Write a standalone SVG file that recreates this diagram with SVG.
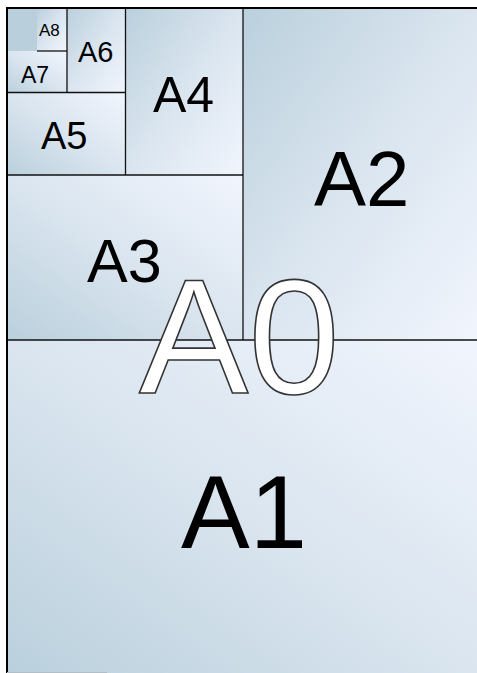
<svg xmlns="http://www.w3.org/2000/svg" width="477" height="673" viewBox="0 0 477 673">
<defs>
<linearGradient id="gTL" x1="0" y1="0" x2="1" y2="1">
<stop offset="0" stop-color="#bad0dd"/>
<stop offset="0.5" stop-color="#dae5ef"/>
<stop offset="1" stop-color="#f1f5fd"/>
</linearGradient>
<linearGradient id="gBL" x1="0" y1="1" x2="1" y2="0">
<stop offset="0" stop-color="#bad0dd"/>
<stop offset="0.5" stop-color="#dae5ef"/>
<stop offset="1" stop-color="#f1f5fd"/>
</linearGradient>
<style>
.lbl{font-family:"Liberation Sans",Arial,sans-serif;fill:#000}
.ln{stroke:#111;stroke-width:1.3;fill:none}
.bd{stroke:#000;stroke-width:2;fill:none}
</style>
</defs>
<rect x="0" y="0" width="477" height="673" fill="#ffffff"/>
<g id="A1"><rect x="7" y="340" width="470" height="333" fill="url(#gBL)"/><text class="lbl" x="181" y="548" font-size="103">A1</text></g>
<g id="A2"><rect x="243" y="8" width="234" height="332" fill="url(#gTL)"/><text class="lbl" x="314" y="206" font-size="78">A2</text></g>
<g id="A3"><rect x="7" y="175" width="236" height="165" fill="url(#gBL)"/><text class="lbl" x="87" y="282" font-size="61">A3</text></g>
<g id="A4"><rect x="125.5" y="8" width="117.5" height="167" fill="url(#gTL)"/><text class="lbl" x="153" y="112" font-size="50">A4</text></g>
<g id="A5"><rect x="7" y="92.5" width="118.5" height="82.5" fill="url(#gBL)"/><text class="lbl" x="41" y="149" font-size="38">A5</text></g>
<g id="A6"><rect x="67" y="8" width="58.5" height="84.5" fill="url(#gTL)"/><text class="lbl" x="78" y="62" font-size="29">A6</text></g>
<g id="A7"><rect x="7" y="51" width="60" height="41.5" fill="url(#gBL)"/><text class="lbl" x="21" y="83" font-size="23">A7</text></g>
<g id="A8"><rect x="37" y="8" width="30" height="43" fill="url(#gTL)"/><text class="lbl" x="39" y="36" font-size="17">A8</text></g>
<g id="A9"><rect x="7" y="8" width="30" height="43" fill="#b9cfdb"/></g>
<g id="lines">
<line class="ln" x1="7" y1="340" x2="477" y2="340"/>
<line class="ln" x1="243" y1="8" x2="243" y2="340"/>
<line class="ln" x1="7" y1="175" x2="243" y2="175"/>
<line class="ln" x1="125.5" y1="8" x2="125.5" y2="175"/>
<line class="ln" x1="7" y1="92.5" x2="125.5" y2="92.5"/>
<line class="ln" x1="67" y1="8" x2="67" y2="92.5"/>
<line class="ln" x1="37" y1="51" x2="67" y2="51"/>
<line class="bd" x1="7" y1="8" x2="477" y2="8"/>
<line class="bd" x1="7" y1="7" x2="7" y2="673"/>
<rect x="7" y="672" width="100" height="1" fill="#b4bec6"/>
</g>
<g id="A0"><text x="139" y="393" font-size="164" font-family="Liberation Sans,Arial,sans-serif" fill="#ffffff" stroke="#333" stroke-width="1.6">A0</text></g>
</svg>
